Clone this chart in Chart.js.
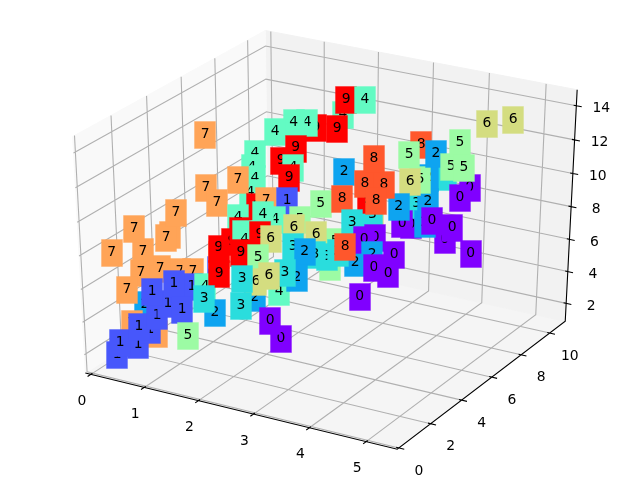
<!DOCTYPE html>
<html>
<head>
<meta charset="utf-8">
<script src="https://cdn.jsdelivr.net/npm/chart.js@4/dist/chart.umd.js"></script>
<style>
  html, body { margin: 0; background: #fff; }
  canvas { display: block; }
</style>
</head>
<body>
<canvas id="chart" width="640" height="480"></canvas>
<script>
// Values, listed in drawing order (back to front)
const xValues = [
  4.48,3.69,4.79,4.34,3.58,5.27,4.24,4.17,4.19,4.47,4.89,4.54,4.30,4.24,
  3.96,4.56,4.64,4.70,4.99,4.26,3.93,4.84,5.21,4.89,1.02,1.42,0.11,0.08,
  0.65,0.29,0.82,0.28,0.18,0.20,0.20,1.02,0.72,0.82,0.21,0.35,0.75,0.11,
  0.21,0.83,0.94,0.82,1.33,0.90,1.30,0.65,2.04,0.78,1.59,1.21,1.11,0.54,
  1.07,2.79,2.50,2.75,2.98,2.69,2.45,2.30,2.18,2.69,1.75,1.60,2.37,2.49,
  2.57,1.74,1.56,2.21,1.54,1.89,1.49,1.68,2.70,3.13,2.54,2.76,1.33,2.25,
  2.01,2.09,1.30,1.36,1.66,1.60,2.03,1.46,1.62,1.32,2.20,2.80,2.50,2.88,
  2.69,2.78,3.53,3.11,3.72,1.95,2.31,1.95,2.78,1.09,1.33,1.82,1.85,1.97,2.03,
  1.59,2.91,3.62,4.31,3.75,3.33,3.89,3.07,3.81,3.57,3.68,3.18,2.90,3.47,
  3.07,2.94,3.53,3.34
];
const yValues = [
  6.6,7.3,3.6,5.8,7.1,3.6,6.3,6.6,6.8,7.1,6.6,7.3,5.6,5.8,
  6.1,5.6,6.3,6.6,5.8,5.1,5.6,7.8,8.1,6.8,2.1,1.6,2.8,2.1,
  1.8,2.1,1.6,2.3,1.6,0.8,2.1,1.6,2.3,2.6,0.8,1.6,1.1,1.3,
  2.1,1.3,1.6,1.1,1.8,2.1,1.3,3.6,1.1,4.3,2.6,3.8,4.1,5.6,
  3.3,6.1,7.3,7.6,5.1,4.8,5.1,4.8,4.1,3.6,4.3,4.6,3.8,4.1,
  3.6,4.3,4.6,1.8,2.1,1.6,2.3,4.6,1.8,1.6,5.6,6.3,4.6,3.8,
  6.1,3.6,4.3,4.6,3.8,4.1,3.6,4.3,5.6,5.8,5.1,5.6,6.3,6.6,
  4.8,3.1,2.6,3.3,2.6,6.6,3.8,6.1,2.6,6.3,5.6,4.8,3.1,2.6,4.8,
  5.6,6.8,5.1,2.6,4.3,5.6,4.8,5.1,4.6,5.3,3.6,6.8,7.1,5.6,
  5.3,7.6,6.8,7.1
];
const zValues = [
  8.04,7.93,12.18,9.40,8.03,14.10,11.71,10.07,8.84,8.43,11.40,10.14,14.07,11.90,
  12.98,13.73,12.62,13.87,13.10,12.21,10.23,14.36,14.66,7.37,6.46,7.08,3.29,2.55,
  2.57,5.85,6.81,6.99,5.06,7.83,8.44,8.99,8.15,9.52,1.61,1.79,3.38,1.93,
  2.46,4.16,4.78,5.75,5.98,5.64,4.89,1.22,7.98,3.91,7.58,6.90,5.10,1.23,
  4.05,14.51,14.51,14.51,14.40,14.44,14.39,14.47,14.27,13.94,12.61,11.51,12.91,12.41,
  12.18,11.14,10.00,12.90,11.80,11.48,14.68,9.26,12.04,12.46,9.43,11.05,8.35,9.38,
  7.78,9.69,7.07,7.59,8.13,7.53,8.46,6.52,6.66,5.14,8.06,7.33,5.14,5.47,
  8.18,8.60,8.88,8.24,9.28,5.47,5.09,4.18,7.38,2.14,3.79,5.05,6.00,4.78,1.29,
  1.54,3.26,9.84,11.83,11.31,11.16,11.97,10.40,11.10,12.95,10.34,7.09,6.57,7.03,
  7.41,4.56,6.31,4.81
];
const digits = [
  0,0,3,2,0,3,2,2,0,0,0,0,8,5,5,2,5,5,5,6,2,6,6,0,
  7,7,2,7,7,7,7,7,7,7,7,7,7,7,
  1,1,1,1,1,1,1,1,1,1,1,5,
  1,4,7,9,9,2,3,
  4,9,4,9,9,4,4,4,9,4,4,9,4,9,4,4,7,7,7,7,9,7,1,5,2,
  4,4,5,4,9,9,4,4,9,9,6,5,6,
  5,5,2,6,3,3,3,3,2,
  4,2,3,2,6,6,3,3,0,0,0,
  6,3,9,8,8,8,8,8,3,0,0,2,8,0,0,0
];
const digitColors = ['#8000ff','#4757fb','#0ea4f0','#2adddd','#63fbc3','#9cfba4','#d4dd80','#ffa457','#ff572c','#ff0000'];

const xTicks = [0, 1, 2, 3, 4, 5];
const yTicks = [0, 2, 4, 6, 8, 10];
const zTicks = [2, 4, 6, 8, 10, 12, 14];
const xLim = [-0.104, 5.54];
const yLim = [-0.1, 11.1];
const zLim = [0.86, 14.93];

// Perspective of the box: elevation 30, azimuth -60, camera distance 10
function project(x, y, z) {
  const dx = (x - xLim[0]) / (xLim[1] - xLim[0]) - 0.5;
  const dy = (y - yLim[0]) / (yLim[1] - yLim[0]) - 0.5;
  const dz = (z - zLim[0]) / (zLim[1] - zLim[0]) - 0.5;
  const u = 0.8660254 * dx + 0.5 * dy;
  const v = -0.25 * dx + 0.4330127 * dy + 0.8660254 * dz;
  const w = 0.4330127 * dx - 0.75 * dy + 0.5 * dz;
  return { x: u / (10 - w), y: v / (10 - w) };
}

const GAP = { x: NaN, y: NaN };
const [x0, x1] = xLim, [y0, y1] = yLim, [z0, z1] = zLim;

function polyline(points) {
  return points.map(p => project(p[0], p[1], p[2])).concat(GAP);
}

function lineSet(data, color, width, order) {
  return { data, showLine: true, borderColor: color, borderWidth: width, pointRadius: 0, tension: 0, fill: false, order };
}

function paneSet(corners, color) {
  return {
    data: polyline(corners.concat([corners[0]])).slice(0, -1),
    showLine: true, borderColor: color, borderWidth: 1, backgroundColor: color,
    pointRadius: 0, tension: 0, fill: 'shape', order: 5
  };
}

let gridData = [];
xTicks.forEach(t => { gridData = gridData.concat(polyline([[t, y0, z0], [t, y1, z0], [t, y1, z1]])); });
yTicks.forEach(t => { gridData = gridData.concat(polyline([[x1, t, z0], [x0, t, z0], [x0, t, z1]])); });
zTicks.forEach(t => { gridData = gridData.concat(polyline([[x0, y0, t], [x0, y1, t], [x1, y1, t]])); });

// Tick marks stick out past the axis line by a fixed share of the range
const xStep = (x1 - x0) / 12, yStep = (y1 - y0) / 12;
let axisData = polyline([[x0, y0, z0], [x1, y0, z0], [x1, y1, z0], [x1, y1, z1]]);
xTicks.forEach(t => { axisData = axisData.concat(polyline([[t, y0 - 0.2 * yStep, z0], [t, y0 + 0.1 * yStep, z0]])); });
yTicks.forEach(t => { axisData = axisData.concat(polyline([[x1 + 0.2 * xStep, t, z0], [x1 - 0.1 * xStep, t, z0]])); });
zTicks.forEach(t => { axisData = axisData.concat(polyline([[x1 + 0.2 * xStep, y1, t], [x1 - 0.1 * xStep, y1, t]])); });

const labelPoints = xValues.map((x, i) => project(x, yValues[i], zValues[i]));

const tickLabels = {
  id: 'tickLabels',
  afterDatasetsDraw(chart) {
    const { ctx, scales } = chart;
    const put = (p, text, ox, oy) => {
      ctx.fillText(text, scales.x.getPixelForValue(p.x) + ox, scales.y.getPixelForValue(p.y) + oy);
    };
    ctx.save();
    ctx.font = '13.9px "DejaVu Sans"';
    ctx.fillStyle = '#000';
    ctx.textAlign = 'center';
    ctx.textBaseline = 'middle';
    xTicks.forEach(t => put(project(t, y0, z0), String(t), -9, 27));
    yTicks.forEach(t => put(project(x1, t, z0), String(t), 20, 23));
    zTicks.forEach(t => put(project(x1, y1, t), String(t), 25, 3));
    ctx.restore();
  }
};

const digitBoxes = {
  id: 'digitBoxes',
  afterDatasetsDraw(chart) {
    const { ctx } = chart;
    const meta = chart.getDatasetMeta(0);
    ctx.save();
    ctx.font = '13.9px "DejaVu Sans"';
    ctx.textAlign = 'center';
    ctx.textBaseline = 'middle';
    meta.data.forEach((pt, i) => {
      const color = digitColors[digits[i]];
      const bx = Math.round(pt.x), by = Math.round(pt.y);
      ctx.fillStyle = color;
      ctx.globalAlpha = 0.35;
      ctx.fillRect(bx - 11, by - 14, 22, 28);
      ctx.globalAlpha = 1;
      ctx.fillRect(bx - 10.5, by - 13.5, 21, 27);
      ctx.fillStyle = '#000';
      ctx.fillText(String(digits[i]), pt.x, pt.y - 1);
    });
    ctx.restore();
  }
};

new Chart(document.getElementById('chart').getContext('2d'), {
  type: 'scatter',
  data: {
    datasets: [
      { data: labelPoints, pointRadius: 0, showLine: false, order: 0 },
      lineSet(axisData, '#000000', 1.1, 1),
      lineSet(gridData, '#b0b0b0', 1.1, 2),
      paneSet([[x0, y0, z0], [x0, y1, z0], [x0, y1, z1], [x0, y0, z1]], '#f9f9f9'),
      paneSet([[x0, y1, z0], [x1, y1, z0], [x1, y1, z1], [x0, y1, z1]], '#f2f2f2'),
      paneSet([[x0, y0, z0], [x1, y0, z0], [x1, y1, z0], [x0, y1, z0]], '#f5f5f5')
    ]
  },
  options: {
    responsive: false,
    animation: false,
    devicePixelRatio: 1,
    layout: { padding: 0 },
    plugins: { legend: { display: false }, tooltip: { enabled: false }, title: { display: false } },
    scales: {
      x: { type: 'linear', display: false, min: -329 / 3600, max: 311 / 3600 },
      y: { type: 'linear', display: false, min: -247.3 / 2700, max: 232.7 / 2700 }
    }
  },
  plugins: [tickLabels, digitBoxes]
});
</script>
</body>
</html>
